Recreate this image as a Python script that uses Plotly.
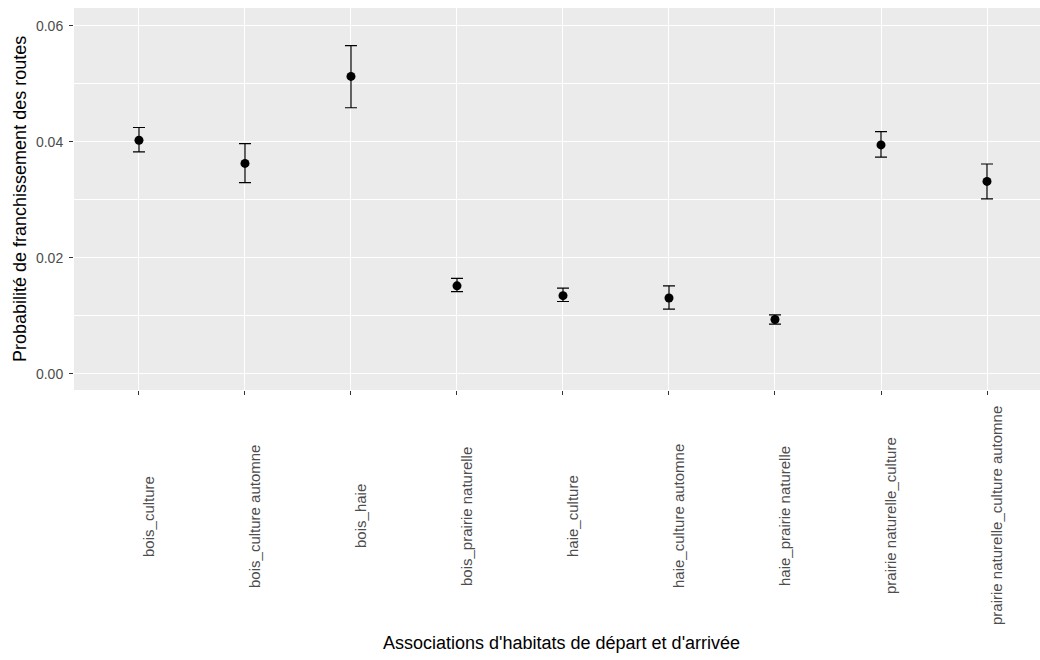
import plotly.graph_objects as go

categories = ["bois_culture", "bois_culture automne", "bois_haie", "bois_prairie naturelle",
              "haie_culture", "haie_culture automne", "haie_prairie naturelle",
              "prairie naturelle_culture", "prairie naturelle_culture automne"]
prob = [0.0403, 0.0363, 0.0513, 0.0152, 0.0135, 0.0131, 0.0094, 0.0395, 0.0332]
upper = [0.0425, 0.0397, 0.0566, 0.0165, 0.0148, 0.0152, 0.0102, 0.0418, 0.0362]
lower = [0.0383, 0.0330, 0.0459, 0.0142, 0.0125, 0.0112, 0.0086, 0.0374, 0.0302]
y_ticks = [0.00, 0.02, 0.04, 0.06]
y_tick_text = ["0.00", "0.02", "0.04", "0.06"]

W, H = 1040, 660
ML, MR, MT, MB = 74, 0, 8, 270
PW, PH = W - ML - MR, H - MT - MB
FONT = "Liberation Sans, Arial"

fig = go.Figure()
fig.add_trace(go.Scatter(
    x=categories, y=prob, mode="markers",
    marker=dict(color="black", size=9),
    error_y=dict(type="data", symmetric=False,
                 array=[u - p for u, p in zip(upper, prob)],
                 arrayminus=[p - l for p, l in zip(prob, lower)],
                 color="black", thickness=1.2, width=6),
    showlegend=False,
))

annotations = []
for c in categories:
    annotations.append(dict(
        x=c, xref="x", y=(390 - 516) / PH, yref="paper",
        text=c, textangle=-90, showarrow=False, xanchor="center", yanchor="middle",
        xshift=9, font=dict(family=FONT, size=15, color="#4D4D4D"),
    ))
annotations.append(dict(
    x=(561 - ML) / PW, xref="paper", y=(390 - 643) / PH, yref="paper",
    text="Associations d'habitats de départ et d'arrivée", showarrow=False,
    xanchor="center", yanchor="middle",
    font=dict(family=FONT, size=18, color="black"),
))
annotations.append(dict(
    x=(20 - ML) / PW, xref="paper", y=(390 - 199) / PH, yref="paper",
    text="Probabilité de franchissement des routes", textangle=-90, showarrow=False,
    xanchor="center", yanchor="middle",
    font=dict(family=FONT, size=18, color="black"),
))

fig.update_layout(
    width=W, height=H,
    margin=dict(l=ML, r=MR, t=MT, b=MB, pad=0),
    paper_bgcolor="white", plot_bgcolor="#EBEBEB",
    annotations=annotations,
    xaxis=dict(
        type="category", categoryorder="array", categoryarray=categories,
        range=[-0.613, 8.5], showticklabels=False,
        showgrid=True, gridcolor="white", gridwidth=1.1,
        ticks="outside", ticklen=4, tickcolor="#333333", tickwidth=1,
        zeroline=False, showline=False, fixedrange=True,
    ),
    yaxis=dict(
        range=[-0.00276, 0.0631],
        tickvals=y_ticks, ticktext=y_tick_text,
        tickfont=dict(family=FONT, size=14, color="#4D4D4D"),
        ticklabelstandoff=3,
        showgrid=True, gridcolor="white", gridwidth=1.1,
        minor=dict(dtick=0.01, tick0=0, showgrid=True, gridcolor="white", gridwidth=0.6),
        ticks="outside", ticklen=4, tickcolor="#333333", tickwidth=1,
        zeroline=False, showline=False, fixedrange=True,
    ),
)

fig.write_html("out.html")
